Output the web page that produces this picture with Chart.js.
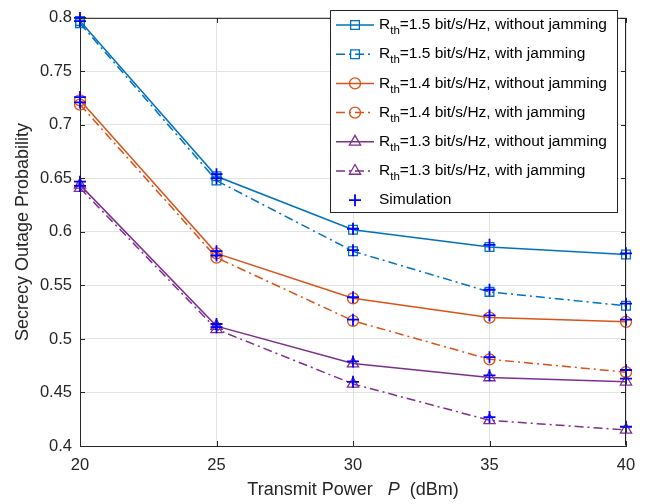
<!DOCTYPE html>
<html>
<head>
<meta charset="utf-8">
<script src="https://cdn.jsdelivr.net/npm/chart.js@4.4.0/dist/chart.umd.min.js"></script>
<style>
  html, body { margin: 0; padding: 0; background: #fff; }
  #wrap { width: 650px; height: 504px; }
</style>
</head>
<body>
<div id="wrap"><canvas id="outageChart" width="650" height="504"></canvas></div>
<script>
const powerLevels = [20, 25, 30, 35, 40];

// analytical curves
const r15NoJam = [0.797, 0.652, 0.602, 0.586, 0.579];
const r15Jam   = [0.795, 0.648, 0.582, 0.544, 0.531];
const r14NoJam = [0.723, 0.580, 0.538, 0.520, 0.516];
const r14Jam   = [0.719, 0.576, 0.517, 0.481, 0.469];
const r13NoJam = [0.644, 0.512, 0.477, 0.464, 0.460];
const r13Jam   = [0.641, 0.509, 0.458, 0.424, 0.415];

// simulation points (plus markers)
const simR15NoJam = [0.800, 0.654, 0.603, 0.588, 0.580];
const simR15Jam   = [0.797, 0.650, 0.583, 0.546, 0.533];
const simR14NoJam = [0.726, 0.582, 0.539, 0.522, 0.518];
const simR14Jam   = [0.721, 0.578, 0.518, 0.483, 0.471];
const simR13NoJam = [0.647, 0.514, 0.479, 0.466, 0.463];
const simR13Jam   = [0.643, 0.511, 0.460, 0.427, 0.418];

const seriesLabels = [
  'R_th=1.5 bit/s/Hz, without jamming',
  'R_th=1.5 bit/s/Hz, with jamming',
  'R_th=1.4 bit/s/Hz, without jamming',
  'R_th=1.4 bit/s/Hz, with jamming',
  'R_th=1.3 bit/s/Hz, without jamming',
  'R_th=1.3 bit/s/Hz, with jamming',
  'Simulation'
];

const FONT = "'Liberation Sans', Arial, Helvetica, sans-serif";
const AXIS_COLOR = '#262626';
const blue = '#0072BD';
const orange = '#D95319';
const purple = '#7E2F8E';
const simBlue = '#0000FF';
const dashDot = [9, 4, 2, 4];

function toPoints(values) {
  return values.map((v, i) => ({ x: powerLevels[i], y: v }));
}

function lineSet(label, values, color, style, radius, dashed) {
  return {
    label: label,
    data: toPoints(values),
    borderColor: color,
    backgroundColor: 'transparent',
    borderWidth: 1.5,
    borderDash: dashed ? dashDot : [],
    pointStyle: style,
    pointRadius: radius,
    pointBorderWidth: 1.3,
    pointBorderColor: color,
    pointBackgroundColor: 'transparent',
    tension: 0,
    clip: false,
    order: 1
  };
}

const simPoints = [].concat(
  toPoints(simR15NoJam), toPoints(simR15Jam),
  toPoints(simR14NoJam), toPoints(simR14Jam),
  toPoints(simR13NoJam), toPoints(simR13Jam)
);

const datasets = [
  lineSet(seriesLabels[0], r15NoJam, blue, 'rect', 6.2, false),
  lineSet(seriesLabels[1], r15Jam, blue, 'rect', 6.2, true),
  lineSet(seriesLabels[2], r14NoJam, orange, 'circle', 5.5, false),
  lineSet(seriesLabels[3], r14Jam, orange, 'circle', 5.5, true),
  lineSet(seriesLabels[4], r13NoJam, purple, 'triangle', 6.5, false),
  lineSet(seriesLabels[5], r13Jam, purple, 'triangle', 6.5, true),
  {
    label: seriesLabels[6],
    data: simPoints,
    showLine: false,
    pointStyle: 'cross',
    pointRadius: 6,
    pointBorderWidth: 1.8,
    pointBorderColor: simBlue,
    borderColor: simBlue,
    backgroundColor: simBlue,
    clip: false,
    order: -1
  }
];

function drawMarker(ctx, style, x, y, color, r) {
  ctx.save();
  ctx.strokeStyle = color;
  ctx.lineWidth = style === 'cross' ? 1.8 : 1.3;
  ctx.beginPath();
  if (style === 'rect') {
    const s = r * Math.SQRT1_2;
    ctx.rect(x - s, y - s, 2 * s, 2 * s);
  } else if (style === 'circle') {
    ctx.arc(x, y, r, 0, Math.PI * 2);
  } else if (style === 'triangle') {
    ctx.moveTo(x, y - r);
    ctx.lineTo(x + r * 0.866, y + r * 0.5);
    ctx.lineTo(x - r * 0.866, y + r * 0.5);
    ctx.closePath();
  } else if (style === 'cross') {
    ctx.moveTo(x - r, y); ctx.lineTo(x + r, y);
    ctx.moveTo(x, y - r); ctx.lineTo(x, y + r);
  }
  ctx.stroke();
  ctx.restore();
}

const framePlugin = {
  id: 'matlabFrame',
  afterDraw(chart) {
    const ctx = chart.ctx;
    const a = chart.chartArea;
    const xs = chart.scales.x;
    const ys = chart.scales.y;
    ctx.save();
    // box
    ctx.strokeStyle = AXIS_COLOR;
    ctx.lineWidth = 1;
    ctx.beginPath();
    ctx.moveTo(a.left + 0.5, a.top + 0.5);
    ctx.lineTo(a.right - 0.5, a.top + 0.5);
    ctx.lineTo(a.right - 0.5, a.bottom - 0.5);
    ctx.stroke();
    // inward ticks
    const tl = 5;
    ctx.beginPath();
    xs.ticks.forEach(t => {
      const px = Math.round(xs.getPixelForValue(t.value)) + 0.5;
      ctx.moveTo(px, a.bottom); ctx.lineTo(px, a.bottom - tl);
      ctx.moveTo(px, a.top); ctx.lineTo(px, a.top + tl);
    });
    ys.ticks.forEach(t => {
      const py = Math.round(ys.getPixelForValue(t.value)) + 0.5;
      ctx.moveTo(a.left, py); ctx.lineTo(a.left + tl, py);
      ctx.moveTo(a.right, py); ctx.lineTo(a.right - tl, py);
    });
    ctx.stroke();

    // axis titles
    ctx.fillStyle = AXIS_COLOR;
    ctx.textBaseline = 'middle';
    const tf = '18px ' + FONT;
    const tfi = 'italic 18px ' + FONT;
    const parts = [['Transmit Power   ', tf], ['P', tfi], ['  (dBm)', tf]];
    let total = 0;
    parts.forEach(p => { ctx.font = p[1]; total += ctx.measureText(p[0]).width; });
    let tx = (a.left + a.right) / 2 - total / 2;
    ctx.textAlign = 'left';
    parts.forEach(p => {
      ctx.font = p[1];
      ctx.fillText(p[0], tx, 490);
      tx += ctx.measureText(p[0]).width;
    });
    ctx.save();
    ctx.translate(23, (a.top + a.bottom) / 2);
    ctx.rotate(-Math.PI / 2);
    ctx.font = tf;
    ctx.textAlign = 'center';
    ctx.fillText('Secrecy Outage Probability', 0, 0);
    ctx.restore();

    // legend
    const lx = 330, ly = 10, lw = 287, lh = 202;
    ctx.fillStyle = '#fff';
    ctx.fillRect(lx, ly, lw, lh);
    ctx.strokeStyle = AXIS_COLOR;
    ctx.lineWidth = 1;
    ctx.strokeRect(lx + 0.5, ly + 0.5, lw, lh);
    const big = '15.5px ' + FONT;
    const small = '11.5px ' + FONT;
    chart.data.datasets.forEach((ds, i) => {
      const cy = ly + 15 + i * 29.2;
      const color = ds.pointBorderColor;
      if (ds.showLine !== false) {
        ctx.save();
        ctx.strokeStyle = color;
        ctx.lineWidth = 1.5;
        ctx.setLineDash(ds.borderDash);
        ctx.beginPath();
        ctx.moveTo(336, cy); ctx.lineTo(374, cy);
        ctx.stroke();
        ctx.restore();
      }
      drawMarker(ctx, ds.pointStyle, 355, cy, color, ds.pointRadius);
      ctx.fillStyle = '#000';
      ctx.textAlign = 'left';
      ctx.textBaseline = 'middle';
      let x = 379;
      const label = ds.label;
      if (label.startsWith('R_th')) {
        ctx.font = big;
        ctx.fillText('R', x, cy);
        x += ctx.measureText('R').width;
        ctx.font = small;
        ctx.fillText('th', x, cy + 6);
        x += ctx.measureText('th').width;
        ctx.font = big;
        ctx.fillText(label.slice(4), x, cy);
      } else {
        ctx.font = big;
        ctx.fillText(label, x, cy);
      }
    });
    ctx.restore();
  }
};

new Chart(document.getElementById('outageChart'), {
  type: 'line',
  data: { datasets: datasets },
  plugins: [framePlugin],
  options: {
    responsive: false,
    animation: false,
    layout: { padding: { top: 9, right: 24, left: 0, bottom: 0 } },
    plugins: {
      legend: { display: false },
      tooltip: { enabled: false }
    },
    scales: {
      x: {
        type: 'linear',
        min: 20,
        max: 40,
        afterFit(scale) { scale.height = 58; },
        ticks: {
          stepSize: 5,
          padding: 10,
          color: AXIS_COLOR,
          font: { family: FONT, size: 16.5 }
        },
        grid: { color: '#e3e3e3', lineWidth: 1, drawTicks: false },
        border: { display: true, color: AXIS_COLOR, width: 1 }
      },
      y: {
        type: 'linear',
        min: 0.4,
        max: 0.8,
        afterFit(scale) { scale.width = 80; },
        ticks: {
          stepSize: 0.05,
          padding: 8,
          color: AXIS_COLOR,
          font: { family: FONT, size: 16.5 },
          callback: v => String(parseFloat(v.toFixed(2)))
        },
        grid: { color: '#e3e3e3', lineWidth: 1, drawTicks: false },
        border: { display: true, color: AXIS_COLOR, width: 1 }
      }
    }
  }
});
</script>
</body>
</html>
